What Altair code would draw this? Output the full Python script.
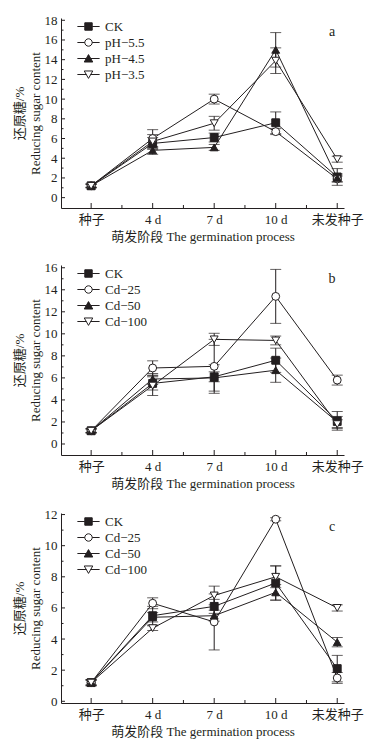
import json
import altair as alt
import pandas as pd

# ---------------- data ----------------
CATEGORIES = ["种子", "4 d", "7 d", "10 d", "未发种子"]
X_TITLE = "萌发阶段 The germination process"
Y_TITLE = ["还原糖/%", "Reducing sugar content"]

CK_VALUES = [1.2, 5.5, 6.1, 7.6, 2.1]
CK_ERRORS = [0.2, 0.6, 0.45, 1.1, 0.85]

# panel a
A_SERIES = ["CK", "pH−5.5", "pH−4.5", "pH−3.5"]
A_PH55 = [1.2, 6.0, 10.0, 6.7, 1.9]
A_PH55_ERR = [0.15, 0.9, 0.5, 0.3, 0.3]
A_PH45 = [1.2, 4.8, 5.1, 15.0, 2.0]
A_PH45_ERR = [0.15, 0.4, 0.3, 1.75, 0.4]
A_PH35 = [1.2, 5.7, 7.55, 13.9, 3.9]
A_PH35_ERR = [0.2, 0.7, 0.7, 1.3, 0.3]

# panel b
B_SERIES = ["CK", "Cd−25", "Cd−50", "Cd−100"]
B_CD25 = [1.2, 6.9, 7.05, 13.4, 5.8]
B_CD25_ERR = [0.15, 0.65, 2.45, 2.45, 0.45]
B_CD50 = [1.2, 5.9, 6.0, 6.7, 2.0]
B_CD50_ERR = [0.15, 0.5, 1.2, 1.1, 0.5]
B_CD100 = [1.2, 5.3, 9.5, 9.4, 1.8]
B_CD100_ERR = [0.2, 0.9, 0.55, 0.4, 0.4]

# panel c
C_SERIES = ["CK", "Cd−25", "Cd−50", "Cd−100"]
C_CD25 = [1.2, 6.3, 5.1, 11.7, 1.5]
C_CD25_ERR = [0.15, 0.35, 1.8, 0.1, 0.35]
C_CD50 = [1.2, 5.4, 5.5, 7.0, 3.8]
C_CD50_ERR = [0.15, 0.3, 0.35, 0.5, 0.3]
C_CD100 = [1.2, 4.7, 6.8, 8.0, 6.0]
C_CD100_ERR = [0.2, 0.15, 0.6, 0.7, 0.2]

A_YTICKS = [0, 2, 4, 6, 8, 10, 12, 14, 16, 18]
B_YTICKS = [0, 2, 4, 6, 8, 10, 12, 14, 16]
C_YTICKS = [0, 2, 4, 6, 8, 10, 12]

# ---------------- style ----------------
INK = "#231f20"
FONT = "Liberation Serif, Noto Sans CJK SC"
LATIN = "Liberation Serif"
W, H = 283, 190
SHAPES = ["square", "circle", "triangle-up", "triangle-down"]
FILLS = [INK, "white", INK, "white"]
STROKES = [INK, INK, INK, INK]
LEGEND_PATHS = [
    "M-3,0H-1M1,0H3M-1,-1H1V1H-1Z",
    "M-3,0H-1M1,0H3M1,0A1,1,0,1,1,-1,0A1,1,0,1,1,1,0Z",
    "M-3,0H-0.55M0.55,0H3M0,-1.05L1.15,0.95L-1.15,0.95Z",
    "M-3,0H-0.55M0.55,0H3M0,1.05L1.15,-0.95L-1.15,-0.95Z",
]


def make_df(series, values, errors):
    rows = []
    for s, vals, errs in zip(series, values, errors):
        for i, (v, e) in enumerate(zip(vals, errs)):
            rows.append({"series": s, "idx": i, "value": v, "lo": v - e, "hi": v + e})
    return pd.DataFrame(rows)


def panel(series, values, errors, ydomain, yticks, letter):
    df = make_df(series, values, errors)
    xs = alt.Scale(domain=[-0.49, 4.11], nice=False, zero=False)
    ys = alt.Scale(domain=ydomain, nice=False, zero=False)
    label_expr = json.dumps(CATEGORIES, ensure_ascii=False) + "[datum.value]"
    xaxis = alt.Axis(values=list(range(len(CATEGORIES))), labelExpr=label_expr,
                     title=X_TITLE, labelPadding=5, titlePadding=4, tickSize=0,
                     labelOverlap=False)
    yaxis = alt.Axis(values=yticks, title=Y_TITLE, labelPadding=4,
                     titlePadding=2, tickSize=0, titleLineHeight=16,
                     labelOverlap=False)

    def X(f):
        return alt.X(f, scale=xs, axis=xaxis)

    def Y(f):
        return alt.Y(f, scale=ys, axis=yaxis)

    base = alt.Chart(df)
    lines = base.mark_line(color=INK, strokeWidth=1).encode(
        x=X("idx:Q"), y=Y("value:Q"), detail="series:N")
    err = base.mark_rule(color=INK, strokeWidth=1).encode(
        x=X("idx:Q"), y=Y("lo:Q"), y2="hi:Q")
    cap_hi = base.mark_tick(orient="horizontal", size=11, thickness=1, color=INK).encode(
        x=X("idx:Q"), y=Y("hi:Q"))
    cap_lo = base.mark_tick(orient="horizontal", size=11, thickness=1, color=INK).encode(
        x=X("idx:Q"), y=Y("lo:Q"))
    pts = base.mark_point(filled=True, size=62, stroke=INK, strokeWidth=1, opacity=1).encode(
        x=X("idx:Q"), y=Y("value:Q"),
        shape=alt.Shape("series:N", scale=alt.Scale(domain=series, range=SHAPES), legend=None),
        fill=alt.Fill("series:N", scale=alt.Scale(domain=series, range=FILLS), legend=None),
    )
    leg_params = dict(title=None, orient="none", legendX=21, legendY=2, symbolSize=55,
                      symbolStrokeWidth=1, symbolOpacity=1,
                      labelFont=LATIN, labelFontSize=13, labelColor=INK,
                      labelOffset=10, rowPadding=2)
    legend_layer = base.transform_filter("false").mark_point(
        filled=True, strokeWidth=1, opacity=1).encode(
        x=X("idx:Q"), y=Y("value:Q"),
        shape=alt.Shape("series:N", scale=alt.Scale(domain=series, range=LEGEND_PATHS),
                        legend=alt.Legend(**leg_params)),
        fill=alt.Fill("series:N", scale=alt.Scale(domain=series, range=FILLS),
                      legend=alt.Legend(**leg_params)),
        stroke=alt.Stroke("series:N", scale=alt.Scale(domain=series, range=STROKES),
                          legend=alt.Legend(**leg_params)),
    )

    # inward ticks
    xmaj = alt.Chart(pd.DataFrame({"t": list(range(len(CATEGORIES)))})).mark_rule(
        color=INK, strokeWidth=1).encode(x=X("t:Q"), y=alt.value(H), y2=alt.value(H - 5))
    xmin = alt.Chart(pd.DataFrame({"t": [i + 0.5 for i in range(len(CATEGORIES) - 1)]})).mark_rule(
        color=INK, strokeWidth=1).encode(x=X("t:Q"), y=alt.value(H), y2=alt.value(H - 3))
    ymaj = alt.Chart(pd.DataFrame({"t": yticks})).mark_rule(color=INK, strokeWidth=1).encode(
        y=Y("t:Q"), x=alt.value(0), x2=alt.value(4))
    ymin = alt.Chart(pd.DataFrame({"t": [t + 1 for t in yticks[:-1]]})).mark_rule(
        color=INK, strokeWidth=1).encode(y=Y("t:Q"), x=alt.value(0), x2=alt.value(2.5))

    lab = alt.Chart(pd.DataFrame({"t": [letter]})).mark_text(
        font=LATIN, fontSize=14, color=INK).encode(x=alt.value(W - 12), y=alt.value(14), text="t:N")

    return alt.layer(lines, err, cap_hi, cap_lo, pts, legend_layer, xmaj, xmin, ymaj, ymin, lab).resolve_scale(
        shape="independent", fill="independent", stroke="independent").properties(width=W, height=H)


pa = panel(A_SERIES, [CK_VALUES, A_PH55, A_PH45, A_PH35], [CK_ERRORS, A_PH55_ERR, A_PH45_ERR, A_PH35_ERR],
           [-1.05, 18.23], A_YTICKS, "a")
pb = panel(B_SERIES, [CK_VALUES, B_CD25, B_CD50, B_CD100], [CK_ERRORS, B_CD25_ERR, B_CD50_ERR, B_CD100_ERR],
           [-1.0, 16.25], B_YTICKS, "b")
pc = panel(C_SERIES, [CK_VALUES, C_CD25, C_CD50, C_CD100], [CK_ERRORS, C_CD25_ERR, C_CD50_ERR, C_CD100_ERR],
           [-0.11, 12.1], C_YTICKS, "c")

chart = alt.vconcat(pa, pb, pc, spacing=18).properties(
    padding={"left": 5, "top": 6, "right": 5, "bottom": 5}
).configure_view(stroke=None).configure_axis(
    labelFont=FONT, labelFontSize=13, labelColor=INK,
    titleFont=FONT, titleFontSize=13, titleColor=INK, titleFontWeight="normal",
    domainColor=INK, domainWidth=1, grid=False,
)

chart.save("out.html", embed_options={"renderer": "svg", "actions": False})
